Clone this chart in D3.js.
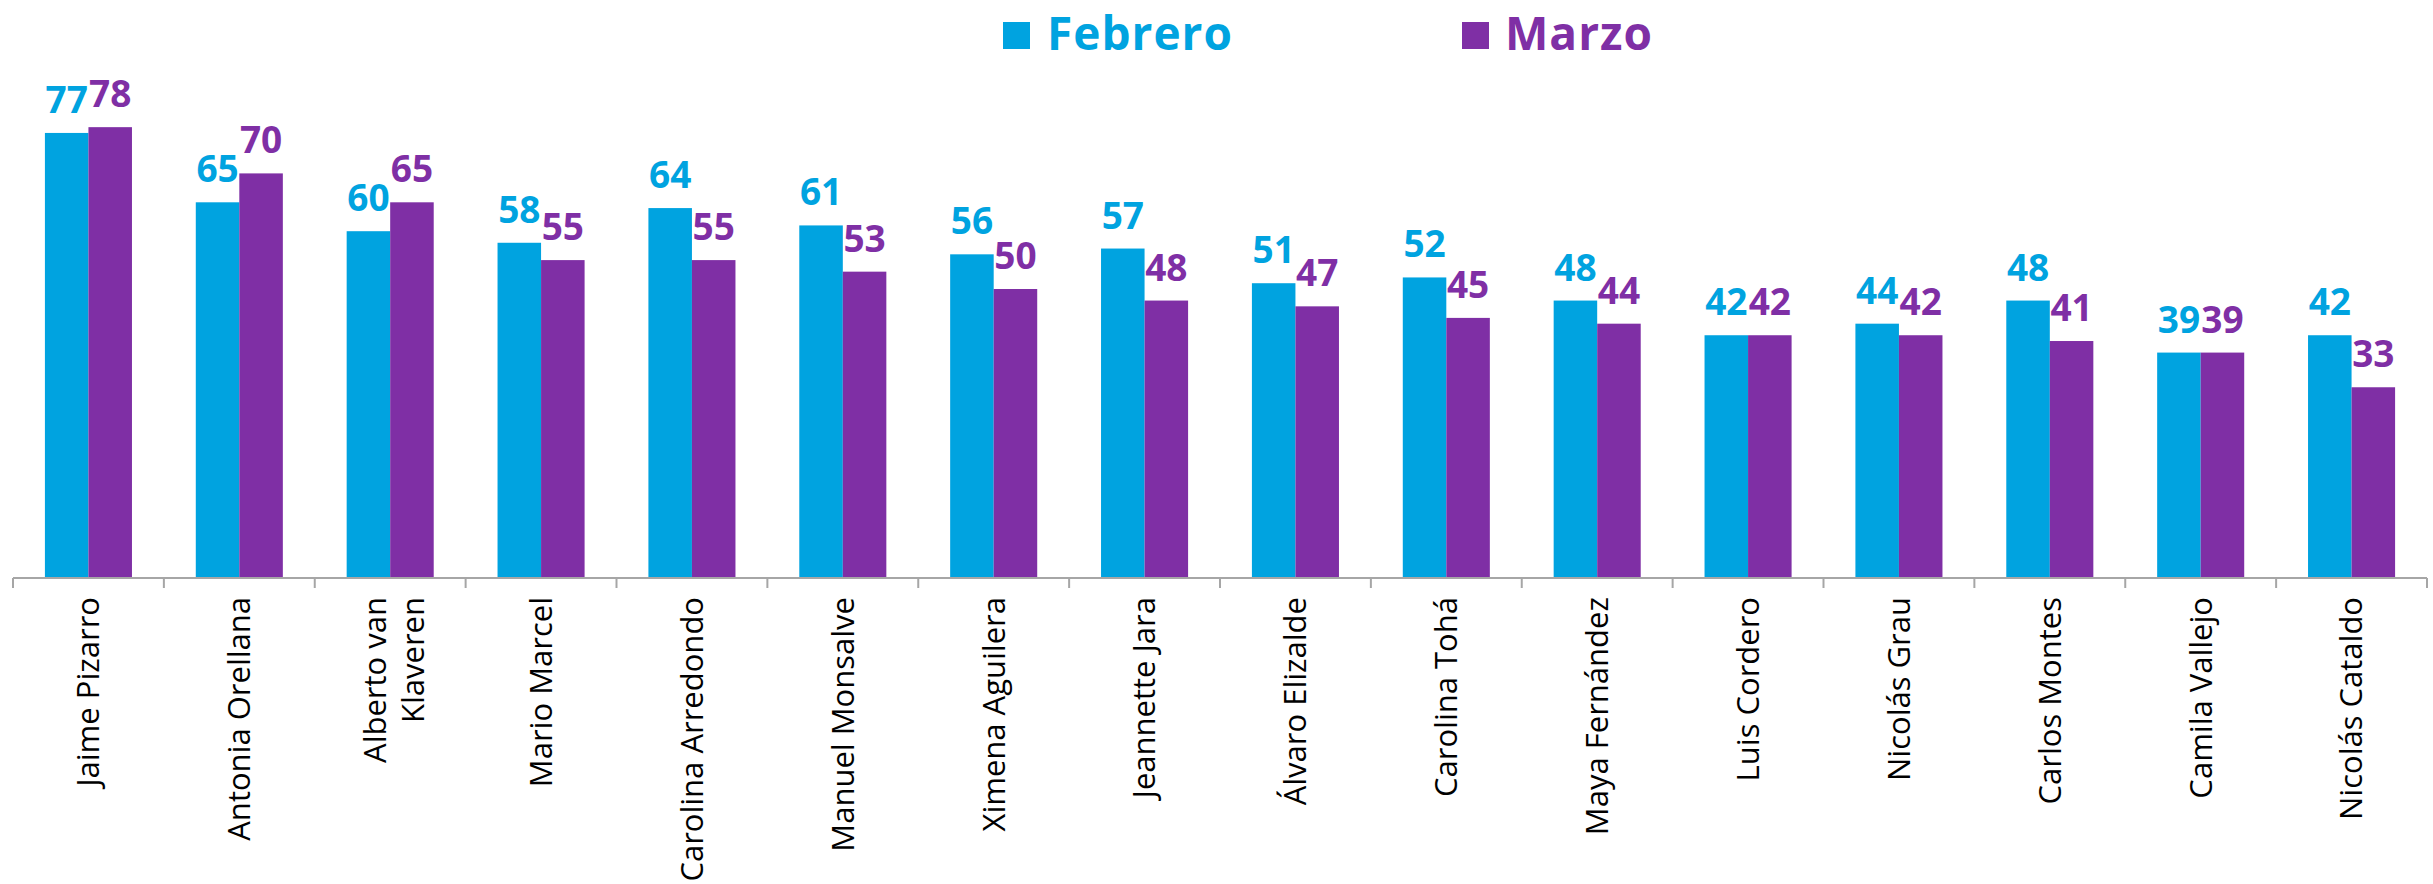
<!DOCTYPE html>
<html>
<head>
<meta charset="utf-8">
<script src="https://cdn.jsdelivr.net/npm/d3@7"></script>
<style>
  html, body { margin: 0; padding: 0; background: #ffffff; }
  svg { display: block; }
</style>
</head>
<body>
<svg id="chart" width="2433" height="884"></svg>
<script>
// ---- data ----
const categories = [
  "Jaime Pizarro", "Antonia Orellana", "Alberto van\nKlaveren", "Mario Marcel",
  "Carolina Arredondo", "Manuel Monsalve", "Ximena Aguilera", "Jeannette Jara",
  "Álvaro Elizalde", "Carolina Tohá", "Maya Fernández", "Luis Cordero",
  "Nicolás Grau", "Carlos Montes", "Camila Vallejo", "Nicolás Cataldo"
];
const seriesNames = ["Febrero", "Marzo"];
const febrero = [77, 65, 60, 58, 64, 61, 56, 57, 51, 52, 48, 42, 44, 48, 39, 42];
const marzo   = [78, 70, 65, 55, 55, 53, 50, 48, 47, 45, 44, 42, 42, 41, 39, 33];
const seriesColors = ["#00A3E0", "#7F2FA5"];

// ---- layout ----
const axisLeft = 13, axisRight = 2427, baseY = 578;
const svg = d3.select("#chart");

const x0 = d3.scaleBand().domain(categories).range([axisLeft, axisRight]).paddingInner(0).paddingOuter(0);
const groupW = x0.bandwidth() * 0.577;
const x1 = d3.scaleBand().domain(seriesNames).range([0, groupW]).padding(0);
const y = d3.scaleLinear().domain([0, 100]).range([baseY, 0]);
const color = d3.scaleOrdinal().domain(seriesNames).range(seriesColors);

const rows = categories.map((c, i) => ({ cat: c, vals: [
  { s: "Febrero", v: febrero[i] }, { s: "Marzo", v: marzo[i] }
]}));

const groups = svg.append("g").selectAll("g").data(rows).join("g")
  .attr("transform", d => `translate(${x0(d.cat) + (x0.bandwidth() - groupW) / 2},0)`);

groups.selectAll("rect").data(d => d.vals).join("rect")
  .attr("x", d => x1(d.s))
  .attr("y", d => y(d.v))
  .attr("width", x1.bandwidth())
  .attr("height", d => baseY - y(d.v))
  .attr("fill", d => color(d.s));

groups.selectAll("text").data(d => d.vals).join("text")
  .attr("x", d => x1(d.s) + x1.bandwidth() / 2)
  .attr("y", d => y(d.v) - 20)
  .attr("text-anchor", "middle")
  .attr("font-family", "'Open Sans', sans-serif")
  .attr("font-weight", 700)
  .attr("font-size", 37)
  .attr("fill", d => color(d.s))
  .text(d => d.v);

// ---- x axis ----
const axisG = svg.append("g").attr("transform", `translate(0,${baseY})`);
axisG.append("line")
  .attr("x1", axisLeft).attr("x2", axisRight).attr("y1", 0).attr("y2", 0)
  .attr("stroke", "#A6A6A6").attr("stroke-width", 2);
const tickPos = categories.map(c => x0(c)).concat([axisRight]);
axisG.selectAll("line.tick").data(tickPos).join("line")
  .attr("class", "tick")
  .attr("x1", d => d).attr("x2", d => d).attr("y1", 0).attr("y2", 10)
  .attr("stroke", "#A6A6A6").attr("stroke-width", 2);

const labelFont = 31;
const labels = svg.append("g").selectAll("text").data(categories).join("text")
  .attr("transform", d => `translate(${x0(d) + x0.bandwidth() / 2},${baseY + 19}) rotate(-90)`)
  .attr("text-anchor", "end")
  .attr("font-family", "'Open Sans', sans-serif")
  .attr("font-size", labelFont)
  .attr("fill", "#000000");
labels.each(function(d) {
  const lines = d.split("\n");
  const t = d3.select(this);
  lines.forEach((ln, i) => {
    const off = lines.length === 1 ? 0.35 : (i === 0 ? -0.12 : 1.08);
    t.append("tspan").attr("x", 0).attr("y", off * labelFont).text(ln);
  });
});

// ---- legend ----
const legendItems = [
  { name: "Febrero", sx: 1003, tx: 1047 },
  { name: "Marzo", sx: 1462, tx: 1505 }
];
const lg = svg.append("g");
lg.selectAll("rect").data(legendItems).join("rect")
  .attr("x", d => d.sx).attr("y", 22).attr("width", 27).attr("height", 27)
  .attr("fill", d => color(d.name));
lg.selectAll("text").data(legendItems).join("text")
  .attr("x", d => d.tx).attr("y", 50)
  .attr("font-family", "'Open Sans', sans-serif")
  .attr("font-weight", 700)
  .attr("font-size", 46)
  .attr("letter-spacing", 1)
  .attr("fill", d => color(d.name))
  .text(d => d.name);
</script>
</body>
</html>
